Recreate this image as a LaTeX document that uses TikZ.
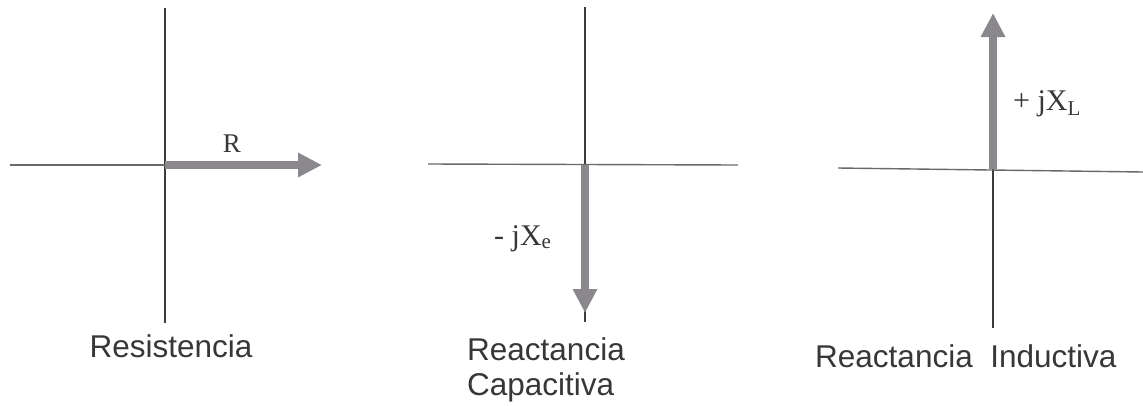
\documentclass[tikz,border=0pt]{standalone}
\usepackage{fontspec}
\setmainfont{Liberation Serif}
\newfontfamily\labelsans{Liberation Sans}
\usetikzlibrary{arrows.meta}
\definecolor{vecfill}{RGB}{138,136,140}
\definecolor{axisdark}{RGB}{60,60,60}
\definecolor{axislight}{RGB}{105,105,105}
\definecolor{textgray}{RGB}{55,55,55}
\tikzset{
  vaxis/.style={draw=axisdark, line width=1.4pt},
  haxis/.style={draw=axislight, line width=1.4pt},
  vec/.style={draw=vecfill, line width=8pt, -{Triangle[width=23pt,length=24pt,fill=vecfill]}},
  caption/.style={font=\labelsans\fontsize{31.5}{35}\selectfont, text=textgray, inner sep=0pt, align=left},
  sym/.style={font=\fontsize{30}{34}\selectfont, text=textgray, inner sep=0pt}
}
\begin{document}
\begin{tikzpicture}[x=1pt,y=-1pt]
\useasboundingbox (0,0) rectangle (1143,405);
% ---------- Panel 1: Resistencia
\coordinate (o1) at (165,165);
\coordinate (t1) at (165,8);
\coordinate (b1) at (165,323);
\coordinate (l1) at (10,165);
\coordinate (e1) at (322,165);
\draw[vaxis] (t1) -- (b1);
\draw[haxis] (l1) -- (o1);
\draw[vec] (o1) -- (e1);
\node[sym, font=\fontsize{27}{30}\selectfont, anchor=base] (lr) at (232,152) {R};
\node[caption, anchor=base] (c1) at (171,357) {Resistencia};
% ---------- Panel 2: Reactancia Capacitiva
\coordinate (o2) at (585,165);
\coordinate (t2) at (585,7);
\coordinate (b2) at (585,322);
\coordinate (l2) at (428,164);
\coordinate (r2) at (738,165);
\coordinate (e2) at (585,313);
\draw[vaxis] (t2) -- (b2);
\draw[haxis] (l2) -- (r2);
\draw[vec] (o2) -- (e2);
\node[sym, anchor=base west] (lc) at (494,245) {- jX\textsubscript{e}};
\node[caption, anchor=base west] (c2) at (467,395) {Reactancia\\Capacitiva};
% ---------- Panel 3: Reactancia Inductiva
\coordinate (o3) at (993,169);
\coordinate (t3) at (993,40);
\coordinate (b3) at (993,328);
\coordinate (l3) at (838,168);
\coordinate (r3) at (1143,172);
\coordinate (e3) at (993,13);
\draw[vaxis] (t3) -- (b3);
\draw[haxis] (l3) -- (r3);
\draw[vec] (o3) -- (e3);
\node[sym, anchor=base west] (ll) at (1013,110) {+ jX\textsubscript{L}};
\node[caption, anchor=base west] (c3) at (815,367) {Reactancia\ \ Inductiva};
\end{tikzpicture}
\end{document}
